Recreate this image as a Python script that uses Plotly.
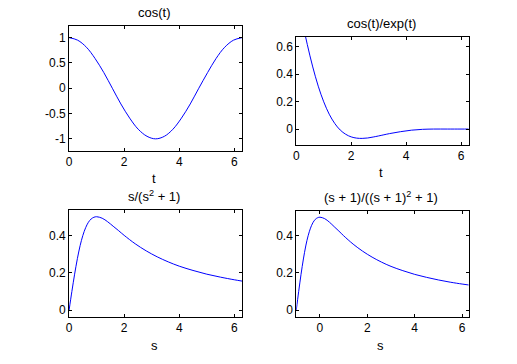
import plotly.graph_objects as go

W, H = 517, 364

# ---- data ----
t1 = [0, 0.31, 0.63, 0.94, 1.26, 1.57, 1.88, 2.2, 2.51, 2.83, 3.14, 3.46, 3.77,
      4.08, 4.4, 4.71, 5.03, 5.34, 5.65, 5.97, 6.28]
y1 = [1, 0.95, 0.81, 0.59, 0.31, 0, -0.31, -0.59, -0.81, -0.95, -1, -0.95, -0.81,
      -0.59, -0.31, 0, 0.31, 0.59, 0.81, 0.95, 1]

t2 = [0, 0.2, 0.4, 0.6, 0.8, 1.0, 1.2, 1.4, 1.6, 1.8, 2.0, 2.2, 2.4, 2.6, 2.8, 3.0,
      3.4, 3.8, 4.2, 4.6, 5.0, 5.5, 6.0, 6.28]
y2 = [1.0, 0.80, 0.617, 0.453, 0.313, 0.199, 0.109, 0.042, -0.006, -0.037, -0.056,
      -0.065, -0.067, -0.064, -0.057, -0.049, -0.032, -0.018, -0.007, -0.001, 0.001,
      0.001, 0.001, 0.001]

s3 = [0, 0.1, 0.2, 0.3, 0.4, 0.5, 0.6, 0.7, 0.8, 0.9, 1.0, 1.2, 1.4, 1.6, 1.8, 2.0,
      2.4, 2.8, 3.2, 3.6, 4.0, 4.5, 5.0, 5.5, 6.0, 6.28]
y3 = [0, 0.099, 0.192, 0.275, 0.345, 0.4, 0.441, 0.470, 0.488, 0.497, 0.5, 0.492,
      0.473, 0.449, 0.425, 0.4, 0.355, 0.317, 0.285, 0.258, 0.235, 0.212, 0.192,
      0.176, 0.162, 0.155]

s4 = [-1, -0.9, -0.8, -0.7, -0.6, -0.5, -0.4, -0.3, -0.2, -0.1, 0, 0.2, 0.4, 0.6,
      0.8, 1.0, 1.4, 1.8, 2.2, 2.6, 3.0, 3.5, 4.0, 4.5, 5.0, 5.5, 6.0, 6.28]
y4 = [0, 0.099, 0.192, 0.275, 0.345, 0.4, 0.441, 0.470, 0.488, 0.497, 0.5, 0.492,
      0.473, 0.449, 0.425, 0.4, 0.355, 0.317, 0.285, 0.258, 0.235, 0.212, 0.192,
      0.176, 0.162, 0.150, 0.140, 0.135]

titles = ["cos(t)", "cos(t)/exp(t)", "s/(s<sup>2</sup> + 1)",
          "(s + 1)/((s + 1)<sup>2</sup> + 1)"]
xlabels = ["t", "t", "s", "s"]

xticks_a = [0, 2, 4, 6]
xticktext = ["0", "2", "4", "6"]
yticks1 = [-1, -0.5, 0, 0.5, 1]
yticktext1 = ["-1", "-0.5", "0", "0.5", "1"]
yticks2 = [0, 0.2, 0.4, 0.6]
yticktext2 = ["0", "0.2", "0.4", "0.6"]
yticks3 = [0, 0.2, 0.4]
yticktext3 = ["0", "0.2", "0.4"]

FONT = "Liberation Sans, Arial, Helvetica, sans-serif"
BLUE = "#0000ff"

def px_x(a, b):
    return [a / W, b / W]

def px_y(top, bottom):
    return [(H - bottom) / H, (H - top) / H]

fig = go.Figure()
series = [(t1, y1), (t2, y2), (s3, y3), (s4, y4)]
for i, (xs, ys) in enumerate(series):
    n = "" if i == 0 else str(i + 1)
    fig.add_trace(go.Scatter(x=xs, y=ys, mode="lines", line=dict(color=BLUE, width=1, shape="spline"),
                             xaxis="x" + n, yaxis="y" + n, showlegend=False, hoverinfo="skip"))

boxes = [
    ((66.5, 240.5), (25.5, 151)),
    ((295, 468.5), (36.7, 145)),
    ((66.5, 240.5), (210, 317)),
    ((295, 468.5), (210.5, 317)),
]
xranges = [[0, 6.2832], [0, 6.2832], [0, 6.2832], [-1, 6.2832]]
yranges = [[-1.24, 1.24], [-0.115, 0.673], [-0.0375, 0.536], [-0.0375, 0.536]]
yticks = [(yticks1, yticktext1), (yticks2, yticktext2), (yticks3, yticktext3), (yticks3, yticktext3)]

ax_common = dict(showline=True, linecolor="black", linewidth=1, mirror="ticks",
                 ticks="inside", ticklen=3, tickcolor="black", showgrid=False,
                 zeroline=False, tickfont=dict(family=FONT, size=12, color="black"))

layout = {}
for i in range(4):
    n = "" if i == 0 else str(i + 1)
    (xa, xb), (ya, yb) = boxes[i]
    layout["xaxis" + n] = dict(domain=px_x(xa, xb), range=xranges[i], tickvals=xticks_a,
                               ticktext=xticktext, anchor="y" + n, **ax_common)
    layout["yaxis" + n] = dict(domain=px_y(ya, yb), range=yranges[i], tickvals=yticks[i][0],
                               ticktext=yticks[i][1], anchor="x" + n, **ax_common)

title_pos = [(152, 13), (381, 23), (152, 196), (380, 197)]
xlabel_pos = [(152, 178), (380, 172), (152, 345), (380, 345)]
ann = []
for i in range(4):
    x, y = title_pos[i]
    ann.append(dict(text=titles[i], x=x / W, y=(H - y) / H, xref="paper", yref="paper",
                    showarrow=False, xanchor="center", yanchor="middle",
                    font=dict(family=FONT, size=13, color="black")))
    x, y = xlabel_pos[i]
    ann.append(dict(text=xlabels[i], x=x / W, y=(H - y) / H, xref="paper", yref="paper",
                    showarrow=False, xanchor="center", yanchor="middle",
                    font=dict(family=FONT, size=13, color="black")))

fig.update_layout(width=W, height=H, margin=dict(l=0, r=0, t=0, b=0),
                  paper_bgcolor="white", plot_bgcolor="white", annotations=ann, **layout)
fig.write_html("out.html", config={"displayModeBar": False},
               post_script="document.body.style.margin='0';")
